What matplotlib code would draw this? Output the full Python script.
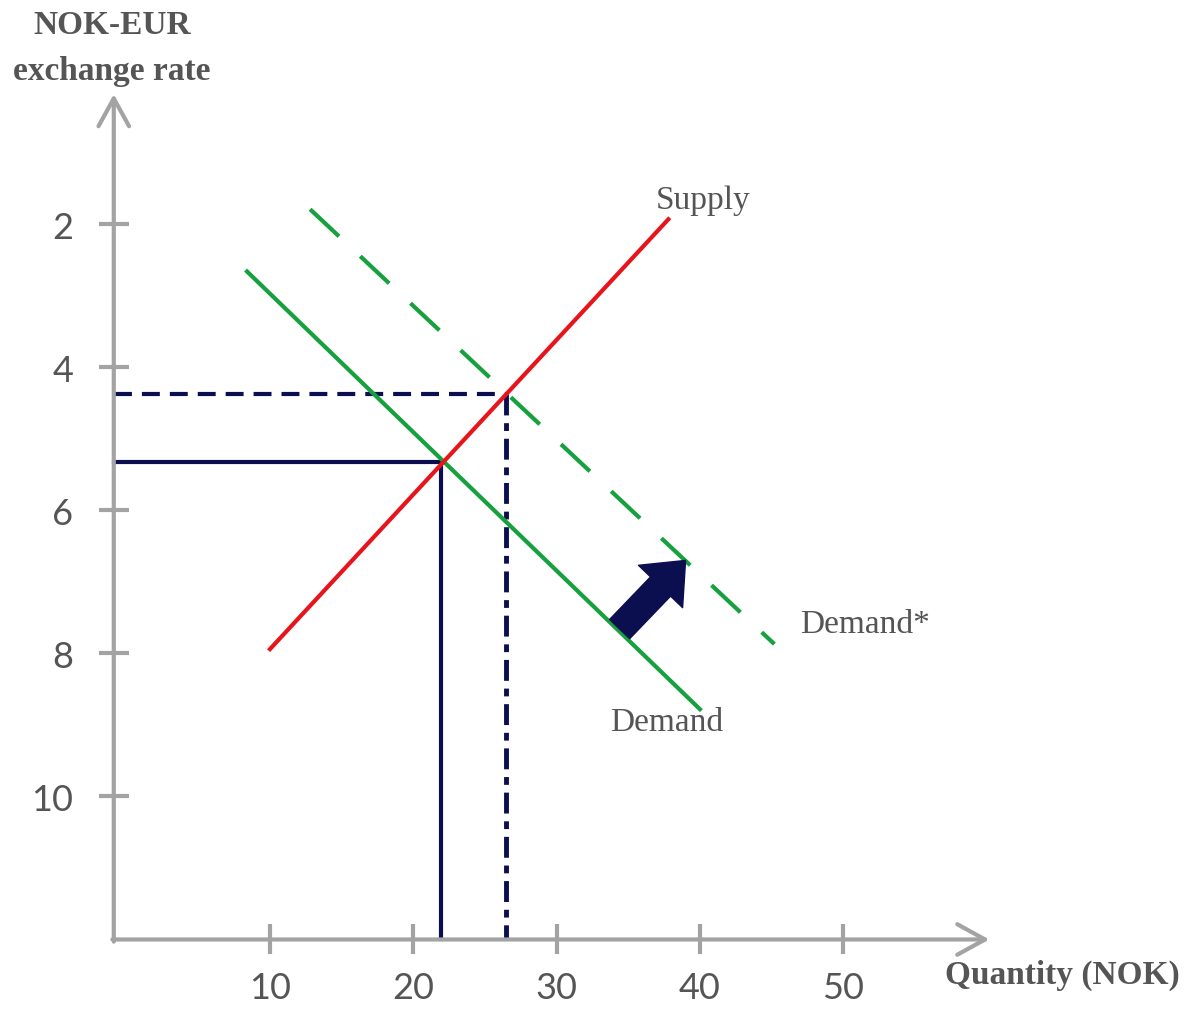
import matplotlib
matplotlib.use('Agg')
import matplotlib.pyplot as plt

# exchange rate ticks (axis is inverted: small rate at top)
rate_ticks = [2, 4, 6, 8, 10]
qty_ticks = [10, 20, 30, 40, 50]

supply_q = [10.0, 37.8]
supply_rate = [7.94, 1.93]
demand_q = [8.4, 40.0]
demand_rate = [2.66, 8.78]
demand2_q = [12.8, 45.2]
demand2_rate = [1.79, 7.87]

eq_old = (21.9, 5.32)
eq_new = (26.5, 4.37)
shift_from = (34.4, 7.66)
shift_to = (39.0, 6.70)

GRAY = '#a3a3a3'
TXT = '#555555'
RED = '#e8141c'
GREEN = '#16a03e'
NAVY = '#0b0e4f'
SERIF = 'Liberation Serif'

fig = plt.figure(figsize=(11.97, 10.12), dpi=100)
ax = fig.add_axes([0, 0, 1, 1])
ax.set_xlim(-8.84, 74.69)
ax.set_ylim(13.0, -1.15)

x0, y0 = -0.9, 12.0  # axis origin

for s in ax.spines.values():
    s.set_visible(False)
ax.spines['left'].set_position(('data', x0))
ax.spines['bottom'].set_position(('data', y0))
ax.set_yticks(rate_ticks)
ax.set_xticks(qty_ticks)
ax.tick_params(direction='inout', length=22, width=3, color=GRAY,
               labelsize=26, labelcolor=TXT)
ax.tick_params(axis='y', pad=18)
ax.tick_params(axis='x', pad=12)
for lab in ax.get_xticklabels() + ax.get_yticklabels():
    lab.set_family('Lato')

# axes with open arrow heads
arr = dict(arrowstyle='->,head_length=1.0,head_width=0.55', lw=3, color=GRAY,
           shrinkA=0, shrinkB=0, mutation_scale=20)
ax.annotate('', xy=(x0, 0.18), xytext=(x0, y0 + 0.03), arrowprops=arr)
ax.annotate('', xy=(60.2, y0), xytext=(x0 - 0.1, y0), arrowprops=arr)

# guide lines to equilibria
ax.plot([x0, eq_old[0]], [eq_old[1], eq_old[1]], color=NAVY, lw=3)
ax.plot([eq_old[0], eq_old[0]], [eq_old[1], y0], color=NAVY, lw=3)
ax.plot([x0, eq_new[0]], [eq_new[1], eq_new[1]], color=NAVY, lw=3,
        linestyle=(0, (4.3, 2.4)))
ax.plot([eq_new[0], eq_new[0]], [eq_new[1], y0], color=NAVY, lw=3.5,
        linestyle=(0, (4.3, 1.6, 1.6, 1.6)))

ax.plot(demand_q, demand_rate, color=GREEN, lw=3)
ax.plot(demand2_q, demand2_rate, color=GREEN, lw=3, linestyle=(0, (9.5, 7)))
ax.plot(supply_q, supply_rate, color=RED, lw=3)

ax.annotate('', xy=shift_to, xytext=shift_from,
            arrowprops=dict(arrowstyle='simple,head_length=0.65,head_width=1.1,tail_width=0.5',
                            color=NAVY, mutation_scale=40, shrinkA=0, shrinkB=0))

ax.text(40.2, 1.65, 'Supply', family=SERIF, fontsize=24, color=TXT,
        ha='center', va='center')
ax.text(47.0, 7.59, 'Demand*', family=SERIF, fontsize=24, color=TXT,
        ha='left', va='center')
ax.text(37.7, 8.95, 'Demand', family=SERIF, fontsize=24, color=TXT,
        ha='center', va='center')
ax.text(65.3, 12.49, 'Quantity (NOK)', family=SERIF, fontsize=24, color=TXT,
        fontweight='bold', ha='center', va='center')
ax.text(-1.03, -0.47, 'NOK-EUR\nexchange rate', family=SERIF, fontsize=24,
        color=TXT, fontweight='bold', ha='center', va='center', linespacing=1.65)

fig.savefig('out.png', dpi=100)
